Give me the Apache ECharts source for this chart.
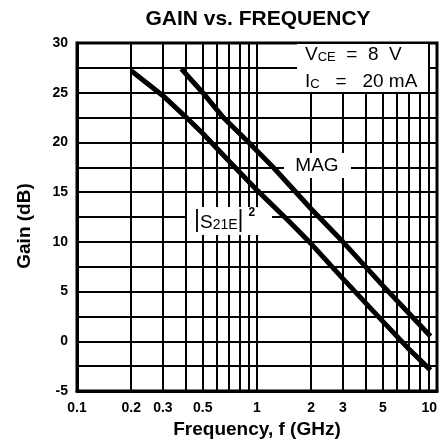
<!DOCTYPE html>
<html><head><meta charset="utf-8">
<script src="https://cdn.jsdelivr.net/npm/echarts@6/dist/echarts.min.js"></script>
<style>html,body{margin:0;padding:0;background:#fff}#c{width:441px;height:445px}</style>
</head><body><div id="c"></div>
<script>
// ---- data ----
const freqGridLines = [0.2, 0.3, 0.4, 0.5, 0.6, 0.7, 0.8, 0.9, 2, 3, 4, 5, 6, 7, 8, 9];
const freqTickLabels = [0.2, 0.3, 0.5, 2, 3, 5];
const s21Freq = [0.2, 0.3, 0.4, 0.5, 0.7, 1, 1.5, 2, 3, 5, 7, 9.2];
const s21Gain = [27.2, 24.7, 22.6, 20.9, 18.1, 15.2, 12.1, 9.8, 6.3, 2.0, -0.8, -2.9];
const magFreq = [0.38, 0.5, 0.65, 0.9, 1.23, 2, 3, 5, 7, 9.2];
const magGain = [27.4, 25.0, 22.5, 20.0, 17.5, 13.3, 10.0, 5.6, 2.8, 0.5];

const FONT = '"Liberation Sans", Arial, Helvetica, sans-serif';
const chart = echarts.init(document.getElementById('c'), null, {renderer: 'canvas'});

const fmtNum = v => String(Math.round(v * 10) / 10);

chart.setOption({
  animation: false,
  backgroundColor: '#fff',
  grid: {left: 77, right: 4, top: 43, bottom: 54, show: true, borderColor: '#000', borderWidth: 3},
  xAxis: {
    type: 'log', logBase: 10, min: 0.1, max: 10,
    name: 'Frequency, f (GHz)', nameLocation: 'middle', nameGap: 20,
    nameTextStyle: {fontFamily: FONT, fontWeight: 'bold', fontSize: 19, color: '#000'},
    axisLine: {onZero: false, lineStyle: {color: '#000', width: 3}},
    axisTick: {show: false},
    axisLabel: {fontFamily: FONT, fontWeight: 'bold', fontSize: 14, color: '#000', margin: 10,
      formatter: fmtNum, alignMaxLabel: 'right'},
    splitLine: {show: true, lineStyle: {color: '#000', width: 2}},
    minorTick: {show: false}, minorSplitLine: {show: false}
  },
  yAxis: {
    type: 'value', min: -5, max: 30, interval: 2.5,
    axisLine: {show: true, onZero: false, lineStyle: {color: '#000', width: 3}},
    axisTick: {show: false},
    axisLabel: {fontFamily: FONT, fontWeight: 'bold', fontSize: 14, color: '#000', margin: 9,
      formatter: v => (Math.abs(v % 5) < 1e-9 ? String(v) : '')},
    splitLine: {show: true, lineStyle: {color: '#000', width: 2}}
  },
  graphic: [
    {type: 'text', z: 60, x: 258, y: 19, style: {text: 'GAIN vs. FREQUENCY', font: 'bold 21px ' + FONT,
      fill: '#000', align: 'center', verticalAlign: 'middle'}},
    {type: 'text', z: 60, x: 25, y: 226, rotation: Math.PI / 2, style: {text: 'Gain (dB)', font: 'bold 19px ' + FONT,
      fill: '#000', align: 'center', verticalAlign: 'middle'}},
    // condition box
    {type: 'rect', z: 50, shape: {x: 297, y: 44, width: 131, height: 48}, style: {fill: '#fff'}},
    {type: 'text', z: 60, x: 305, y: 37, style: {
      text: '{b|V}{s|CE}{b|  =  8  V}\n{b|I}{s|C}{b|   =   20 mA}',
      rich: {
        b: {fontFamily: FONT, fontSize: 19, fill: '#000', lineHeight: 27, verticalAlign: 'bottom'},
        s: {fontFamily: FONT, fontSize: 13, fill: '#000', lineHeight: 27, verticalAlign: 'bottom'}
      }}},
    // MAG label
    {type: 'rect', z: 50, shape: {x: 284, y: 153, width: 67, height: 25}, style: {fill: '#fff'}},
    {type: 'text', z: 60, x: 317, y: 166, style: {text: 'MAG', font: '19px ' + FONT, fill: '#000',
      align: 'center', verticalAlign: 'middle'}},
    // |S21E|^2 label
    {type: 'rect', z: 50, shape: {x: 187, y: 207, width: 85, height: 28}, style: {fill: '#fff'}},
    {type: 'text', z: 60, x: 194, y: 205, style: {
      text: '{bar||}{b|S}{s|21E}{bar||}{sup|2}',
      rich: {
        bar: {fontFamily: FONT, fontSize: 23, fill: '#000', lineHeight: 27, verticalAlign: 'bottom'},
        b: {fontFamily: FONT, fontSize: 19, fill: '#000', lineHeight: 27, verticalAlign: 'bottom'},
        s: {fontFamily: FONT, fontSize: 14, fill: '#000', lineHeight: 27, verticalAlign: 'bottom'},
        sup: {fontFamily: FONT, fontSize: 12, fontWeight: 'bold', fill: '#000', lineHeight: 27, verticalAlign: 'top', padding: [2, 0, 0, 5]}
      }}}
  ],
  series: [
    {
      type: 'line', data: [], z: 1, silent: true,
      markLine: {
        silent: true, symbol: ['none', 'none'], animation: false, z: 1,
        lineStyle: {color: '#000', width: 2, type: 'solid'},
        label: {show: true, position: 'start', distance: 10, fontFamily: FONT, fontWeight: 'bold', fontSize: 14, color: '#000',
          formatter: p => (freqTickLabels.includes(p.value) ? fmtNum(p.value) : '')},
        emphasis: {disabled: true},
        data: freqGridLines.map(v => ({xAxis: v}))
      }
    },
    {
      name: '|S21E|²', type: 'line', z: 100, showSymbol: false, silent: true,
      lineStyle: {color: '#000', width: 5, cap: 'butt'},
      data: s21Freq.map((f, i) => [f, s21Gain[i]])
    },
    {
      name: 'MAG', type: 'line', z: 100, showSymbol: false, silent: true,
      lineStyle: {color: '#000', width: 5, cap: 'butt'},
      data: magFreq.map((f, i) => [f, magGain[i]])
    }
  ]
});
</script>
</body></html>
